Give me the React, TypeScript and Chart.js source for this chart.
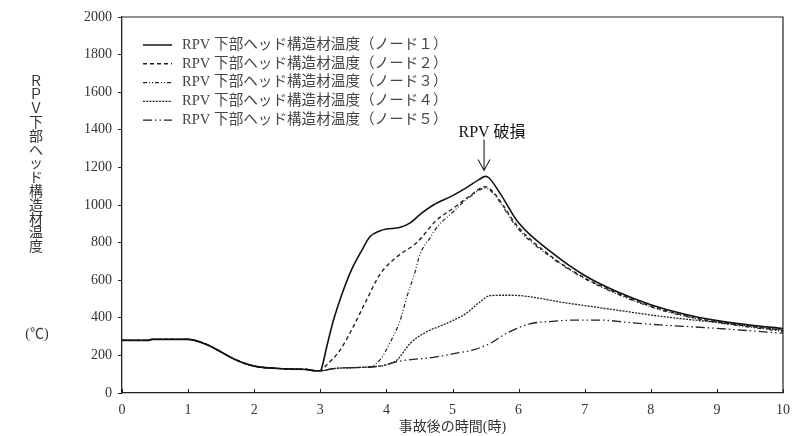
import { useEffect, useRef } from "react";
import { Chart, registerables } from "chart.js";

Chart.register(...registerables);

const FONT = '"Liberation Serif", "Noto Sans CJK JP", serif';

// Shared history (all nodes identical until ~3 h)
const commonTime = [0, 0.4, 0.45, 1.0, 1.1, 1.3, 1.5, 1.7, 2.0, 2.3, 2.6, 2.8, 2.9, 3.0];
const commonTemp = [280, 280, 285, 285, 280, 255, 218, 180, 143, 132, 127, 125, 119, 118];

const node1Time = [3.02, 3.1, 3.2, 3.35, 3.47, 3.63, 3.75, 3.9, 4.0, 4.2, 4.36, 4.51, 4.71, 5.0, 5.2, 5.4, 5.5, 5.55, 5.72, 6.0, 6.5, 7.0, 7.5, 8.0, 8.5, 9.0, 9.5, 10.0];
const node1Temp = [131, 250, 388, 548, 654, 760, 831, 862, 872, 880, 905, 950, 1000, 1050, 1090, 1135, 1152, 1145, 1062, 905, 748, 625, 537, 470, 420, 385, 362, 343];

const node2Time = [3.07, 3.3, 3.5, 3.7, 3.9, 4.16, 4.46, 4.76, 5.01, 5.25, 5.5, 5.6, 6.0, 6.5, 7.0, 7.5, 8.0, 8.5, 9.0, 9.5, 10.0];
const node2Temp = [140, 229, 353, 495, 630, 725, 800, 920, 982, 1045, 1097, 1075, 880, 725, 612, 530, 462, 413, 378, 354, 333];

const node3Time = [3.2, 3.5, 3.75, 3.9, 4.05, 4.21, 4.31, 4.43, 4.51, 4.65, 4.76, 5.01, 5.25, 5.5, 5.6, 6.0, 6.5, 7.0, 7.5, 8.0, 8.5, 9.0, 9.5, 10.0];
const node3Temp = [130, 135, 140, 175, 264, 388, 512, 640, 740, 820, 880, 964, 1040, 1090, 1068, 870, 720, 608, 525, 458, 410, 375, 350, 328];

const node4Time = [3.2, 3.5, 3.8, 4.0, 4.16, 4.36, 4.61, 4.81, 5.0, 5.21, 5.4, 5.57, 5.8, 6.02, 6.3, 6.6, 7.2, 7.6, 8.1, 8.6, 9.15, 9.6, 10.0];
const node4Temp = [130, 135, 140, 150, 175, 264, 326, 355, 385, 424, 480, 518, 520, 518, 505, 486, 455, 435, 410, 390, 370, 352, 335];

const node5Time = [3.2, 3.5, 3.85, 4.21, 4.71, 5.06, 5.31, 5.57, 5.82, 6.17, 6.47, 6.88, 7.23, 7.64, 8.14, 8.64, 9.15, 10.0];
const node5Temp = [130, 135, 140, 170, 190, 212, 229, 264, 318, 368, 380, 388, 388, 376, 362, 352, 340, 318];

const seriesLabels = [
  "RPV 下部ヘッド構造材温度（ノード１）",
  "RPV 下部ヘッド構造材温度（ノード２）",
  "RPV 下部ヘッド構造材温度（ノード３）",
  "RPV 下部ヘッド構造材温度（ノード４）",
  "RPV 下部ヘッド構造材温度（ノード５）",
];

const xTicks = [0, 1, 2, 3, 4, 5, 6, 7, 8, 9, 10];
const yTitleChars = ["Ｒ", "Ｐ", "Ｖ", "下", "部", "ヘ", "ッ", "ド", "構", "造", "材", "温", "度"];
const yUnit = "(℃)";
const xTitle = "事故後の時間(時)";
const breachLabel = "RPV 破損";
const breachTime = 5.5;
const breachTemp = 1152;

const dashes: number[][] = [[], [4, 3], [4, 2, 1, 2, 1, 2], [2, 1.2], [9, 3, 1.5, 3, 1.5, 3]];
const widths = [1.6, 1.4, 1.2, 1.3, 1.3];

function build(t: number[], v: number[]) {
  const pts = commonTime.map((x, i) => ({ x, y: commonTemp[i] }));
  t.forEach((x, i) => pts.push({ x, y: v[i] }));
  return pts;
}

const overlay = {
  id: "overlay",
  afterDraw(chart: any) {
    const ctx = chart.ctx as CanvasRenderingContext2D;
    const { left, right, top, bottom } = chart.chartArea;
    const xs = chart.scales.x;
    const ys = chart.scales.y;
    ctx.save();
    // box top/right
    ctx.strokeStyle = "#222";
    ctx.lineWidth = 1.2;
    ctx.beginPath();
    ctx.moveTo(left, top);
    ctx.lineTo(right, top);
    ctx.lineTo(right, bottom);
    ctx.stroke();
    // inward x ticks
    ctx.lineWidth = 1;
    xTicks.forEach((t) => {
      const px = Math.round(xs.getPixelForValue(t)) + 0.5;
      ctx.beginPath();
      ctx.moveTo(px, bottom);
      ctx.lineTo(px, bottom - 4);
      ctx.stroke();
    });
    // y title stacked
    ctx.fillStyle = "#333";
    ctx.font = `14px ${FONT}`;
    ctx.textAlign = "center";
    ctx.textBaseline = "middle";
    yTitleChars.forEach((c, i) => ctx.fillText(c, 36, 82 + i * 13.8));
    ctx.fillText(yUnit, 37, 334);
    // legend
    seriesLabels.forEach((lab, i) => {
      const y = 45 + i * 18.8;
      ctx.strokeStyle = "#222";
      ctx.lineWidth = widths[i];
      ctx.setLineDash(dashes[i]);
      ctx.beginPath();
      ctx.moveTo(143, y);
      ctx.lineTo(172, y);
      ctx.stroke();
      ctx.setLineDash([]);
      ctx.fillStyle = "#444";
      ctx.font = `14.6px ${FONT}`;
      ctx.textAlign = "left";
      ctx.fillText(lab, 182, y);
    });
    // breach annotation
    const ax = xs.getPixelForValue(breachTime) - 1.5;
    const tipY = ys.getPixelForValue(breachTemp) - 6;
    ctx.strokeStyle = "#222";
    ctx.lineWidth = 1.1;
    ctx.beginPath();
    ctx.moveTo(ax, tipY - 31);
    ctx.lineTo(ax, tipY);
    ctx.moveTo(ax - 6, tipY - 11);
    ctx.lineTo(ax, tipY);
    ctx.lineTo(ax + 6, tipY - 11);
    ctx.stroke();
    ctx.fillStyle = "#111";
    ctx.font = `16px ${FONT}`;
    ctx.textAlign = "center";
    ctx.fillText(breachLabel, ax + 8, tipY - 38);
    ctx.restore();
  },
};

export default function App() {
  const ref = useRef<HTMLCanvasElement>(null);
  useEffect(() => {
    const datasets = [
      build(node1Time, node1Temp),
      build(node2Time, node2Temp),
      build(node3Time, node3Temp),
      build(node4Time, node4Temp),
      build(node5Time, node5Temp),
    ].map((data, i) => ({
      label: seriesLabels[i],
      data,
      borderColor: i === 0 ? "#111" : "#222",
      borderWidth: widths[i],
      borderDash: dashes[i],
      pointRadius: 0,
      cubicInterpolationMode: "monotone" as const,
      fill: false,
    }));
    const chart = new Chart(ref.current!, {
      type: "line",
      data: { datasets },
      options: {
        animation: false,
        responsive: true,
        maintainAspectRatio: false,
        layout: { padding: { left: 0, right: 18, top: 17, bottom: 0 } },
        plugins: { legend: { display: false }, tooltip: { enabled: false } },
        scales: {
          x: {
            type: "linear",
            min: 0,
            max: 10,
            afterFit: (s: any) => {
              s.height = 43;
            },
            afterBuildTicks: (s: any) => {
              s.ticks = xTicks.map((v) => ({ value: v }));
            },
            grid: { display: false, drawTicks: false },
            border: { display: true, color: "#222", width: 1.3 },
            ticks: { color: "#333", font: { family: FONT, size: 14 }, padding: 9, maxRotation: 0, callback: (v: any) => String(v) },
            title: { display: true, text: xTitle, color: "#333", font: { family: FONT, size: 14 }, padding: { top: 0, bottom: 0 } },
          },
          y: {
            min: 0,
            max: 2000,
            afterFit: (s: any) => {
              s.width = 122;
            },
            ticks: { stepSize: 200, color: "#333", font: { family: FONT, size: 14 }, padding: 6, callback: (v: any) => String(v) },
            grid: { drawOnChartArea: false, drawTicks: true, tickLength: 4, color: "#222" },
            border: { display: true, color: "#222", width: 1.3 },
          },
        },
      },
      plugins: [overlay],
    });
    return () => chart.destroy();
  }, []);
  return (
    <div style={{ position: "fixed", left: 0, top: 0, width: 801, height: 436, background: "#fff" }}>
      <canvas ref={ref} />
    </div>
  );
}
